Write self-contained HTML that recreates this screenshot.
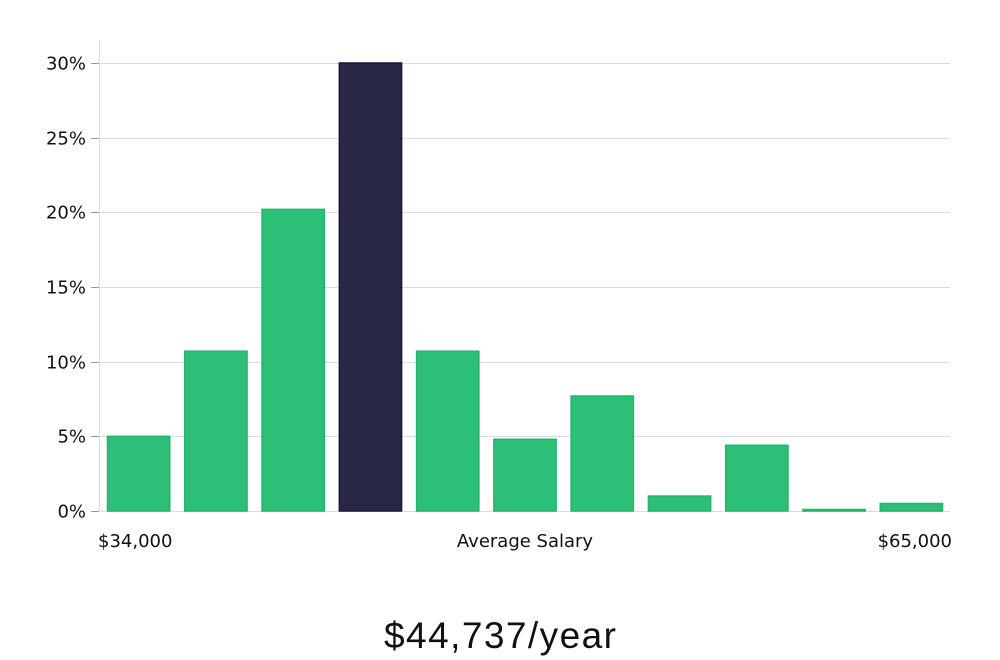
<!DOCTYPE html>
<html><head><meta charset="utf-8"><style>
html,body{margin:0;padding:0;background:#fff;width:1000px;height:660px;overflow:hidden}
svg text{font-family:"DejaVu Sans","Liberation Sans",sans-serif}
</style></head><body>
<svg id="chart" width="1000" height="660" xmlns="http://www.w3.org/2000/svg">
<g id="grid"></g>
<g id="yaxis"></g>
<g id="bars"></g>
<text x="98" y="547" font-size="18" fill="#111">$34,000</text>
<text x="525" y="547" font-size="18" fill="#111" text-anchor="middle">Average Salary</text>
<text x="952" y="547" font-size="18" fill="#111" text-anchor="end">$65,000</text>
<text x="500" y="648" font-size="37" fill="#111" text-anchor="middle" style="font-family:'Liberation Sans',sans-serif" textLength="232">$44,737/year</text>
</svg>
<script>
const values = [5.0, 10.7, 20.2, 30.0, 10.7, 4.8, 7.7, 1.0, 4.4, 0.1, 0.5];
const highlightIndex = [3];
const yTicks = [0, 5, 10, 15, 20, 25, 30];
const tickLabels = ["0%", "5%", "10%", "15%", "20%", "25%", "30%"];
const NS = "http://www.w3.org/2000/svg";
const x0 = 100, x1 = 950, yBase = 511, yTop = 63, yMax = 30;
const y = v => yBase - (v / yMax) * (yBase - yTop);
const slot = (x1 - x0) / values.length;
const grid = document.getElementById('grid'), yaxis = document.getElementById('yaxis'), bars = document.getElementById('bars');
function mk(tag, attrs){const e=document.createElementNS(NS,tag);for(const k in attrs)e.setAttribute(k,attrs[k]);return e;}
const axisLine = mk('line',{x1:99.5,x2:99.5,y1:40,y2:yBase,stroke:'#ddd','stroke-width':1});


yaxis.appendChild(axisLine);
yTicks.forEach((t,i)=>{
  const yy = Math.round(y(t))+0.5;
  const g = mk('line',{x1:x0,x2:x1,y1:yy,y2:yy,stroke:'#dcdcdc','stroke-width':1});
  
  
  grid.appendChild(g);
  const tk = mk('line',{x1:91,x2:99,y1:yy,y2:yy,stroke:'#999','stroke-width':1});
  
  
  yaxis.appendChild(tk);
  const lb = mk('text',{x:86,y:yy+6,'font-size':18,fill:'#111','text-anchor':'end'});
  lb.textContent = tickLabels[i];
  
  
  yaxis.appendChild(lb);
});
values.forEach((v,i)=>{
  const bx = x0 + i*slot + 7.5, bw = slot - 15;
  const top = y(v);
  const hi = highlightIndex.includes(i);
  const r = mk('rect',{x:bx,y:top,width:bw,height:Math.max(yBase-top,1.5),fill:hi?'#292746':'#2bbf77',stroke:hi?'#1a1838':'#22b56c','stroke-width':1.5});
  
  
  bars.appendChild(r);
});
</script>
</body></html>
